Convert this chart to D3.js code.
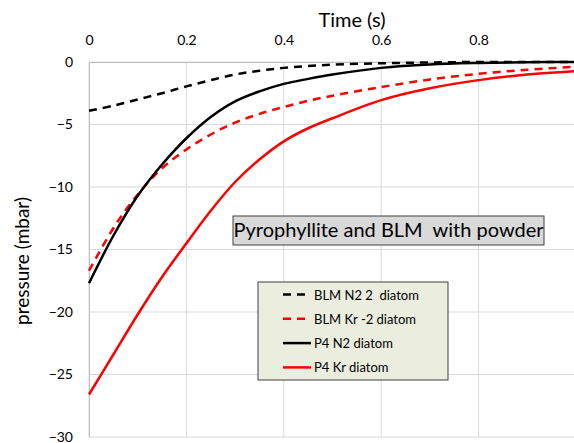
<!DOCTYPE html>
<html lang="en">
<head>
  <meta charset="UTF-8">
  <title>pressure vs time</title>
  <style>
    body { margin: 0; background: #fff; }
    #main { width: 574px; height: 443px; overflow: hidden; }
    text { font-family: Lato, "Open Sans", sans-serif; fill: #000; white-space: pre; }
  </style>
</head>
<body>
  <div id="main"></div>
  <script src="https://d3js.org/d3.v7.min.js"></script>
  <script>
    // data
    const time = [0, 0.05, 0.1, 0.15, 0.2, 0.25, 0.3, 0.35, 0.4, 0.45, 0.5, 0.6, 0.7, 0.8, 0.9, 1.0]
    const blmN2 = [-3.9, -3.5, -3.0, -2.5, -1.95, -1.45, -1.0, -0.7, -0.47, -0.32, -0.22, -0.1, -0.04, 0, 0, 0]
    const blmKr = [-16.7, -13.3, -10.6, -8.5, -7.0, -5.8, -4.85, -4.15, -3.6, -3.1, -2.7, -2.0, -1.4, -0.95, -0.62, -0.38]
    const p4N2 = [-17.7, -13.9, -10.7, -8.2, -6.1, -4.4, -3.15, -2.35, -1.75, -1.35, -1.0, -0.47, -0.2, -0.08, -0.02, 0]
    const p4Kr = [-26.6, -23.4, -20.2, -17.2, -14.5, -11.9, -9.6, -7.8, -6.35, -5.3, -4.5, -3.05, -2.1, -1.45, -1.0, -0.73]
    const xTicks = [0, 0.2, 0.4, 0.6, 0.8]
    const xGrid = [0, 0.2, 0.4, 0.6, 0.8, 1.0]
    const yTicks = [0, -5, -10, -15, -20, -25, -30]
    const seriesNames = ['BLM N2 2  diatom', 'BLM Kr -2 diatom', 'P4 N2 diatom', 'P4 Kr diatom']
    const seriesValues = [blmN2, blmKr, p4N2, p4Kr]
    const seriesColors = ['#000', '#ff0000', '#000', '#ff0000']
    const seriesDashed = [true, true, false, false]

    const [width, height] = [574, 443]
    const svg = d3.select('#main').append('svg')
      .attr('width', width)
      .attr('height', height)

    const xScale = d3.scaleLinear().domain([0, 1]).range([89, 576])
    const yScale = d3.scaleLinear().domain([-30, 0]).range([437, 62])

    // grid
    svg.append('g').selectAll('line')
      .data(xGrid).join('line')
      .attr('x1', d => xScale(d)).attr('x2', d => xScale(d))
      .attr('y1', yScale(0)).attr('y2', yScale(-30))
      .attr('stroke', '#d9d9d9').attr('stroke-width', 1)
    svg.append('g').selectAll('line')
      .data(yTicks).join('line')
      .attr('x1', xScale(0)).attr('x2', xScale(1))
      .attr('y1', d => yScale(d)).attr('y2', d => yScale(d))
      .attr('stroke', '#d9d9d9').attr('stroke-width', 1)

    // axes
    const xAxis = svg.append('g')
      .attr('transform', `translate(0, ${yScale(0)})`)
      .call(d3.axisTop(xScale).tickValues(xTicks).tickSize(0).tickPadding(17)
        .tickFormat(d => d === 0 ? '0' : d3.format('.1f')(d)))
    xAxis.select('.domain').attr('stroke', '#bfbfbf')
    xAxis.selectAll('text').style('font-size', '14px')

    const yAxis = svg.append('g')
      .attr('transform', `translate(${xScale(0)}, 0)`)
      .call(d3.axisLeft(yScale).tickValues(yTicks).tickSize(0).tickPadding(16))
    yAxis.select('.domain').attr('stroke', '#bfbfbf')
    yAxis.selectAll('text').style('font-size', '14px')

    svg.append('text')
      .attr('x', 352).attr('y', 27)
      .attr('text-anchor', 'middle')
      .style('font-size', '20px')
      .text('Time (s)')

    svg.append('text')
      .attr('transform', 'translate(29, 261) rotate(-90)')
      .attr('text-anchor', 'middle')
      .style('font-size', '19px')
      .text('pressure (mbar)')

    // series
    const line = d3.line()
      .x((d, i) => xScale(time[i]))
      .y(d => yScale(d))
      .curve(d3.curveCatmullRom)

    svg.append('g').selectAll('path')
      .data(seriesValues).join('path')
      .attr('d', d => line(d))
      .attr('fill', 'none')
      .attr('stroke', (d, i) => seriesColors[i])
      .attr('stroke-width', 2.5)
      .attr('stroke-dasharray', (d, i) => seriesDashed[i] ? '8,6' : null)

    // title box
    svg.append('rect')
      .attr('x', 233).attr('y', 216).attr('width', 311).attr('height', 29)
      .attr('fill', '#d9d9d9').attr('stroke', '#404040').attr('stroke-width', 1)
    svg.append('text')
      .attr('x', 388.5).attr('y', 237)
      .attr('text-anchor', 'middle')
      .style('font-size', '20px')
      .text('Pyrophyllite and BLM  with powder')

    // legend
    const legend = svg.append('g')
    legend.append('rect')
      .attr('x', 258).attr('y', 282).attr('width', 190).attr('height', 98)
      .attr('fill', '#ebeddf').attr('stroke', '#404040').attr('stroke-width', 1)
    const items = legend.selectAll('g')
      .data(seriesNames).join('g')
      .attr('transform', (d, i) => `translate(0, ${294.5 + i * 24.3})`)
    items.append('line')
      .attr('x1', 283).attr('x2', 311)
      .attr('stroke', (d, i) => seriesColors[i])
      .attr('stroke-width', 2.5)
      .attr('stroke-dasharray', (d, i) => seriesDashed[i] ? '8,6' : null)
    items.append('text')
      .attr('x', 314).attr('y', 5)
      .style('font-size', '13px')
      .text(d => d)
  </script>
</body>
</html>
